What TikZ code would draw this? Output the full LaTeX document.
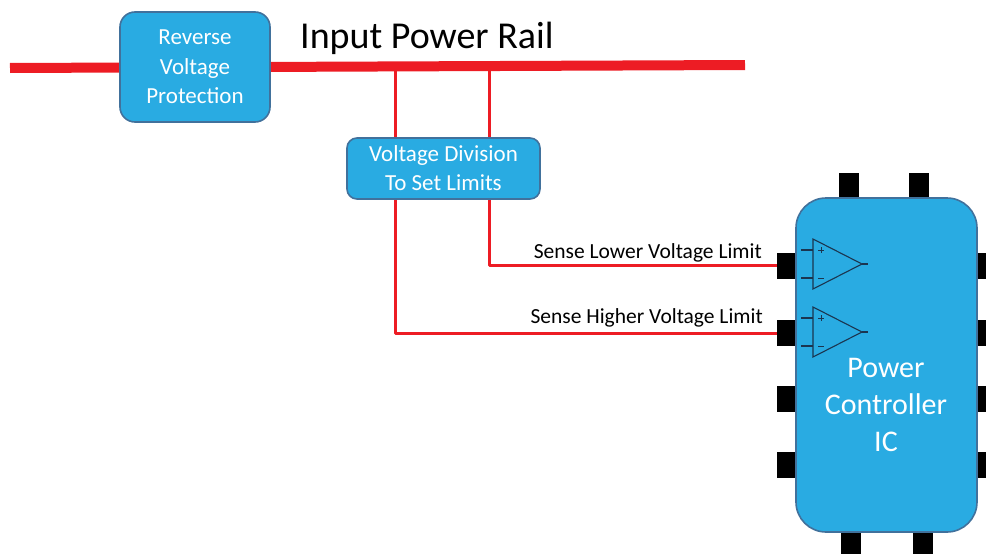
\documentclass[tikz,border=0pt]{standalone}
\usepackage{fontspec}
\setmainfont{Carlito}
\definecolor{boxfill}{HTML}{29ABE2}
\definecolor{boxline}{HTML}{41719C}
\definecolor{railred}{HTML}{ED1C24}
\definecolor{opline}{HTML}{1B3550}
\begin{document}
\begin{tikzpicture}[x=1pt,y=-1pt,
  bluebox/.style={draw=boxline,line width=1.6pt,fill=boxfill,text=white,align=center,inner sep=0pt},
  pin/.style={fill=black,inner sep=0pt,minimum width=20pt,minimum height=26pt},
  tpin/.style={fill=black,inner sep=0pt,minimum width=20pt,minimum height=26pt},
  sig/.style={draw=railred,line width=3pt,line join=round},
  rail/.style={draw=railred,line width=10pt},
  opamp/.style={draw=opline,line width=1.1pt,line join=miter},
  lbl/.style={font=\fontsize{21.5}{26}\selectfont,inner sep=0pt}]
\useasboundingbox (0,0) rectangle (986,554);
% rail
\coordinate (railL) at (10,68);
\coordinate (railR) at (745,65);
\draw[rail] (railL) -- (railR);
\coordinate (tapA) at (395,67);
\coordinate (tapB) at (489,66);
% boxes
\node[bluebox,rounded corners=15pt,minimum width=150pt,minimum height=110pt,font=\fontsize{23}{29.5}\selectfont] (rvp) at (195,67) {Reverse\\Voltage\\Protection};
\node[inner sep=0pt,font=\fontsize{38}{40}\selectfont,anchor=base west] (title) at (300,48) {Input Power Rail};
\node[bluebox,rounded corners=10pt,minimum width=193pt,minimum height=61pt,font=\fontsize{23}{29}\selectfont] (vd) at (443.5,168.5) {Voltage Division\\To Set Limits};
% pins of IC
\node[tpin] (pt1) at (849,186) {};
\node[tpin] (pt2) at (919,186) {};
\node[tpin] (pb1) at (851,545) {};
\node[tpin] (pb2) at (923,545) {};
\node[pin] (pl1) at (787,265.5) {};
\node[pin] (pl2) at (787,333) {};
\node[pin] (pl3) at (787,399) {};
\node[pin] (pl4) at (787,465) {};
\node[pin] (pr1) at (987,265.5) {};
\node[pin] (pr2) at (987,333) {};
\node[pin] (pr3) at (987,399) {};
\node[pin] (pr4) at (987,465) {};
% IC body
\node[bluebox,rounded corners=30pt,minimum width=181pt,minimum height=334pt] (ic) at (886.5,365) {};
\node[text=white,align=center,inner sep=0pt,font=\fontsize{30}{37}\selectfont] (ictext) at (886,405) {Power\\Controller\\IC};
% signal lines
\draw[sig] (tapA) -- (tapA |- vd.north);
\draw[sig] (tapB) -- (tapB |- vd.north);
\draw[sig] (tapB |- vd.south) -- (489,265.5) -- (pl1.west);
\draw[sig] (tapA |- vd.south) -- (395,333) -- (pl2.west);
\node[lbl,anchor=base east] (lowlbl) at (762,258) {Sense Lower Voltage Limit};
\node[lbl,anchor=base east] (highlbl) at (763,323) {Sense Higher Voltage Limit};
% op-amps
\foreach \dy/\nm in {0/a,68/b}{
  \draw[opamp] (813,239+\dy) -- (813,289+\dy) -- (862,264+\dy) -- cycle;
  \draw[opamp] (862,264+\dy) -- (868,264+\dy);
  \draw[opamp] (801,250+\dy) -- (813,250+\dy);
  \draw[opamp] (801,278+\dy) -- (813,278+\dy);
  \draw[opamp,line width=0.7pt] (818,250+\dy) -- (824,250+\dy) (821,247+\dy) -- (821,253+\dy);
  \draw[opamp,line width=0.7pt] (818,278+\dy) -- (824,278+\dy);
}
\end{tikzpicture}
\end{document}
